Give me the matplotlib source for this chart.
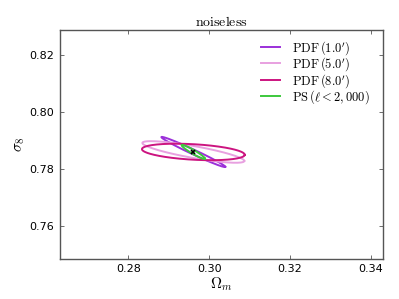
import numpy as np
import matplotlib
matplotlib.use("Agg")
from matplotlib import pyplot as plt

plt.rcParams['mathtext.fontset'] = 'cm'

# fiducial cosmology
fid_om = 0.2961
fid_s8 = 0.7859

# 1-sigma-ish contours: half-extent in Omega_m, half-extent in sigma_8, correlation
labels = [r'$\mathrm{PDF}\,(1.0^\prime)$', r'$\mathrm{PDF}\,(5.0^\prime)$',
          r'$\mathrm{PDF}\,(8.0^\prime)$', r'$\mathrm{PS}\,(\ell < 2,000)$']
colors = ['#9b30d9', '#e8a0e0', '#cc1480', '#3cc83c']
d_om = [0.0079, 0.0126, 0.0127, 0.0029]
d_s8 = [0.0053, 0.0038, 0.0029, 0.0025]
rho = [-0.985, -0.83, -0.34, -0.95]

fig = plt.figure(figsize=(3.99, 2.99), dpi=100)
ax = fig.add_axes([0.150, 0.134, 0.810, 0.766])

t = np.linspace(0, 2 * np.pi, 400)
for lab, c, dx, dy, r in zip(labels, colors, d_om, d_s8, rho):
    x = fid_om + dx * np.cos(t)
    y = fid_s8 + dy * (r * np.cos(t) + np.sqrt(1 - r ** 2) * np.sin(t))
    ax.plot(x, y, color=c, lw=1.4, label=lab)

ax.plot([fid_om], [fid_s8], 'kx', ms=3, mew=1.2)

ax.set_xlim(0.2631, 0.3430)
ax.set_ylim(0.7483, 0.8288)
ax.set_xticks([0.28, 0.30, 0.32, 0.34])
ax.set_yticks([0.76, 0.78, 0.80, 0.82])
ax.tick_params(direction='in', length=3, width=0.6, labelsize=8, color='#555555',
               top=True, right=True, pad=4)
for s in ax.spines.values():
    s.set_color('#555555')
    s.set_linewidth(1.0)

ax.set_xlabel(r'$\Omega_m$', fontsize=11, labelpad=1)
ax.set_ylabel(r'$\sigma_8$', fontsize=11, labelpad=2)
ax.set_title(r'$\mathrm{noiseless}$', fontsize=10, pad=3)

ax.legend(loc='upper right', frameon=False, fontsize=9, handlelength=1.5,
          labelspacing=-0.1, borderaxespad=0.5, handletextpad=1.0,
          bbox_to_anchor=(0.995, 1.01))

fig.savefig('out.png', dpi=100)
